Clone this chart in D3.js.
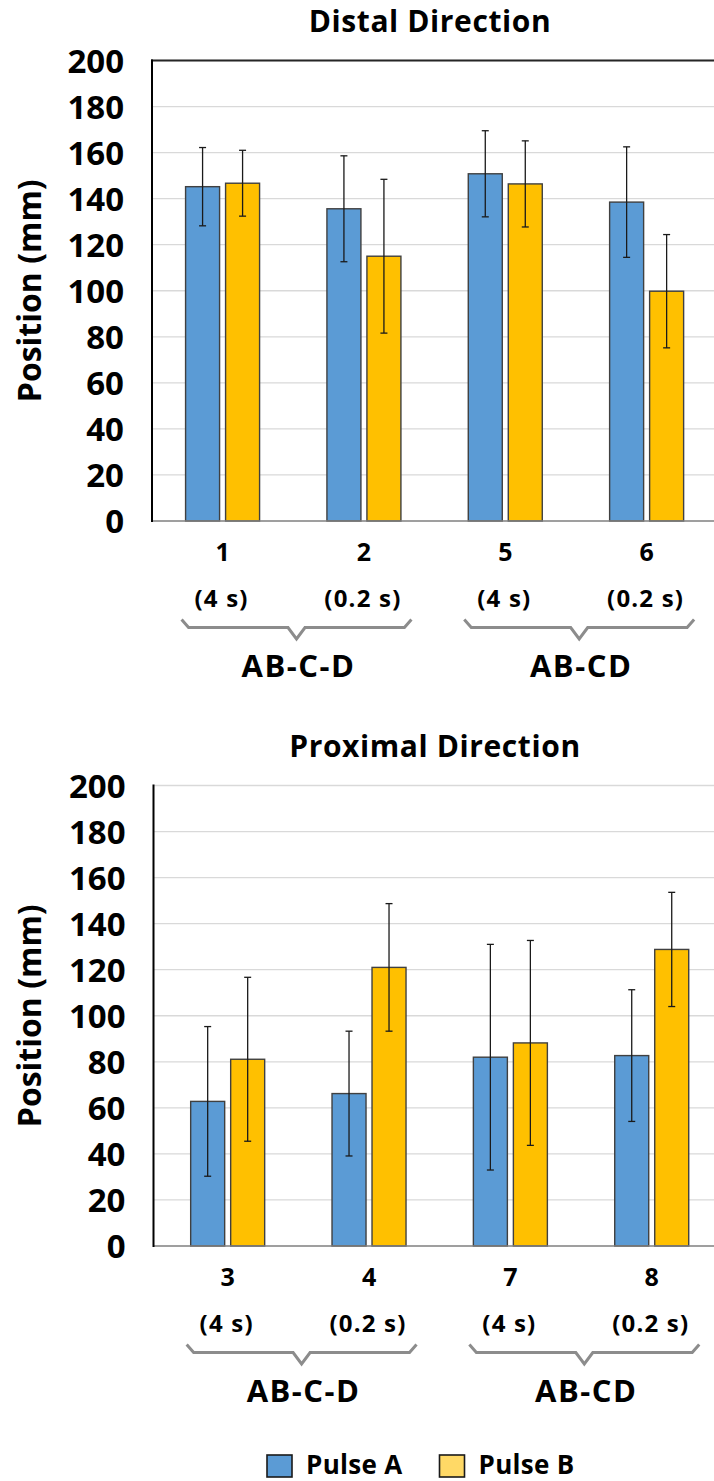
<!DOCTYPE html>
<html>
<head>
<meta charset="utf-8">
<script src="https://cdn.jsdelivr.net/npm/d3@7"></script>
<style>
  html, body { margin: 0; padding: 0; background: #fff; }
  svg text { font-family: "Open Sans", "Noto Sans", sans-serif; font-weight: 700; fill: #000; }
</style>
</head>
<body>
<svg id="chart" width="714" height="1481"></svg>
<script>
// ---- data ----
const seriesNames = ["Pulse A", "Pulse B"];
const seriesFill = ["#5B9BD5", "#FFC000"];
const legendFill = ["#5B9BD5", "#FFD966"];
const yTicks = [0, 20, 40, 60, 80, 100, 120, 140, 160, 180, 200];

const distalCategories = ["1", "2", "5", "6"];
const distalDurations = ["(4 s)", "(0.2 s)", "(4 s)", "(0.2 s)"];
const distalGroups = ["AB-C-D", "AB-CD"];
const distalPulseA = [145.2, 135.6, 150.8, 138.5];
const distalErrA = [17.0, 23.0, 18.7, 24.0];
const distalPulseB = [146.7, 115.0, 146.4, 99.8];
const distalErrB = [14.3, 33.4, 18.7, 24.6];

const proximalCategories = ["3", "4", "7", "8"];
const proximalDurations = ["(4 s)", "(0.2 s)", "(4 s)", "(0.2 s)"];
const proximalGroups = ["AB-C-D", "AB-CD"];
const proximalPulseA = [62.8, 66.2, 82.0, 82.7];
const proximalErrA = [32.5, 27.1, 49.0, 28.6];
const proximalPulseB = [81.1, 121.0, 88.2, 128.8];
const proximalErrB = [35.6, 27.7, 44.5, 24.8];

const svg = d3.select("#chart");

function drawPanel(opt) {
  const g = svg.append("g");
  const y = d3.scaleLinear().domain([0, 200]).range([opt.yBase, opt.yBase - 460.5]);
  const x = d3.scaleBand().domain(opt.categories).range([opt.bandStart, opt.bandStart + 565.4]);
  const inner = d3.scaleBand().domain(seriesNames).range([0, 74]).paddingInner(0.15).paddingOuter(0);
  const center = c => x(c) + x.bandwidth() / 2;

  // horizontal gridlines
  g.append("g").selectAll("line").data(yTicks.filter(t => t > 0)).join("line")
    .attr("x1", opt.axisX).attr("x2", 714)
    .attr("y1", d => y(d)).attr("y2", d => y(d))
    .attr("stroke", "#d9d9d9").attr("stroke-width", 1.3);

  if (opt.topFrame) {
    g.append("line").attr("x1", opt.axisX - 1).attr("x2", 714)
      .attr("y1", y(200)).attr("y2", y(200))
      .attr("stroke", "#262626").attr("stroke-width", 2.2);
  }

  // y axis tick labels
  const yAxis = d3.axisLeft(y).tickValues(yTicks).tickSize(0).tickPadding(28);
  const ya = g.append("g").attr("transform", `translate(${opt.axisX},0)`).call(yAxis);
  ya.select(".domain").remove();
  ya.selectAll("text").style("font-size", "33px").attr("dy", "0.36em");

  // bars
  const rows = opt.categories.map((c, i) => [
    { cat: c, s: 0, v: opt.a[i], e: opt.ea[i] },
    { cat: c, s: 1, v: opt.b[i], e: opt.eb[i] }
  ]).flat();

  g.append("g").selectAll("rect").data(rows).join("rect")
    .attr("x", d => center(d.cat) - 37 + inner(seriesNames[d.s]))
    .attr("width", inner.bandwidth())
    .attr("y", d => y(d.v))
    .attr("height", d => y(0) - y(d.v))
    .attr("fill", d => seriesFill[d.s])
    .attr("stroke", "#404040").attr("stroke-width", 1.4);

  // error bars
  const eg = g.append("g").attr("stroke", "#1a1a1a").attr("stroke-width", 1.3);
  const ex = d => center(d.cat) - 37 + inner(seriesNames[d.s]) + inner.bandwidth() / 2;
  eg.selectAll("line.v").data(rows).join("line").attr("class", "v")
    .attr("x1", ex).attr("x2", ex)
    .attr("y1", d => y(d.v + d.e)).attr("y2", d => y(d.v - d.e));
  eg.selectAll("line.t").data(rows).join("line").attr("class", "t")
    .attr("x1", d => ex(d) - 3.5).attr("x2", d => ex(d) + 3.5)
    .attr("y1", d => y(d.v + d.e)).attr("y2", d => y(d.v + d.e));
  eg.selectAll("line.b").data(rows).join("line").attr("class", "b")
    .attr("x1", d => ex(d) - 3.5).attr("x2", d => ex(d) + 3.5)
    .attr("y1", d => y(d.v - d.e)).attr("y2", d => y(d.v - d.e));

  // axis lines
  g.append("line").attr("x1", opt.axisX).attr("x2", 714)
    .attr("y1", y(0)).attr("y2", y(0))
    .attr("stroke", "#7f7f7f").attr("stroke-width", 1.6);
  g.append("line").attr("x1", opt.axisX).attr("x2", opt.axisX)
    .attr("y1", y(200) - 1).attr("y2", y(0) + 1)
    .attr("stroke", "#000").attr("stroke-width", 2);

  // category labels
  g.append("g").selectAll("text").data(opt.categories).join("text")
    .attr("x", d => center(d)).attr("y", y(0) + 40)
    .attr("text-anchor", "middle").style("font-size", "25px")
    .text(d => d);
  g.append("g").selectAll("text").data(opt.categories).join("text")
    .attr("x", d => center(d) - 1).attr("y", y(0) + 86)
    .attr("text-anchor", "middle").style("font-size", "24px")
    .style("letter-spacing", "1.2px")
    .text((d, i) => opt.durations[i]);

  // group braces and labels
  opt.groups.forEach((name, gi) => {
    const c0 = center(opt.categories[gi * 2]);
    const c1 = center(opt.categories[gi * 2 + 1]);
    const x0 = c0 - 41, x1 = c1 + 47.5, xm = (x0 + x1) / 2;
    const yEnd = y(0) + 98.5, yLine = y(0) + 106.5, yTip = y(0) + 118;
    const path = d3.path();
    path.moveTo(x0, yEnd);
    path.lineTo(x0 + 7, yLine);
    path.lineTo(xm - 8.5, yLine);
    path.lineTo(xm, yTip);
    path.lineTo(xm + 8.5, yLine);
    path.lineTo(x1 - 7, yLine);
    path.lineTo(x1, yEnd);
    g.append("path").attr("d", path.toString())
      .attr("fill", "none").attr("stroke", "#8c8c8c").attr("stroke-width", 3)
      .attr("stroke-linejoin", "miter");
    g.append("text").attr("x", xm + 2).attr("y", y(0) + 155.5)
      .attr("text-anchor", "middle").style("font-size", "31px")
      .style("letter-spacing", "1.5px")
      .text(name);
  });

  // panel title
  g.append("text").attr("x", opt.titleX).attr("y", y(200) - 28.5)
    .attr("text-anchor", "middle").style("font-size", "30px")
    .style("letter-spacing", "0.6px")
    .text(opt.title);

  // y axis title
  g.append("text")
    .attr("transform", `translate(41,${(y(0) + y(200)) / 2}) rotate(-90)`)
    .attr("text-anchor", "middle").style("font-size", "32px")
    .text("Position (mm)");
}

drawPanel({
  title: "Distal Direction", titleX: 430,
  categories: distalCategories, durations: distalDurations, groups: distalGroups,
  a: distalPulseA, ea: distalErrA, b: distalPulseB, eb: distalErrB,
  yBase: 521, axisX: 152, bandStart: 151.9, topFrame: true
});

drawPanel({
  title: "Proximal Direction", titleX: 435,
  categories: proximalCategories, durations: proximalDurations, groups: proximalGroups,
  a: proximalPulseA, ea: proximalErrA, b: proximalPulseB, eb: proximalErrB,
  yBase: 1246, axisX: 153.5, bandStart: 157, topFrame: false
});

// legend
const legendX = [267, 439.5];
const lg = svg.append("g");
seriesNames.forEach((name, i) => {
  lg.append("rect").attr("x", legendX[i]).attr("y", 1455).attr("width", 25).attr("height", 22)
    .attr("fill", legendFill[i]).attr("stroke", "#1a1a1a").attr("stroke-width", 1.6);
  lg.append("text").attr("x", legendX[i] + 39).attr("y", 1474)
    .style("font-size", "26px").style("letter-spacing", "0.3px").text(name);
});
</script>
</body>
</html>
